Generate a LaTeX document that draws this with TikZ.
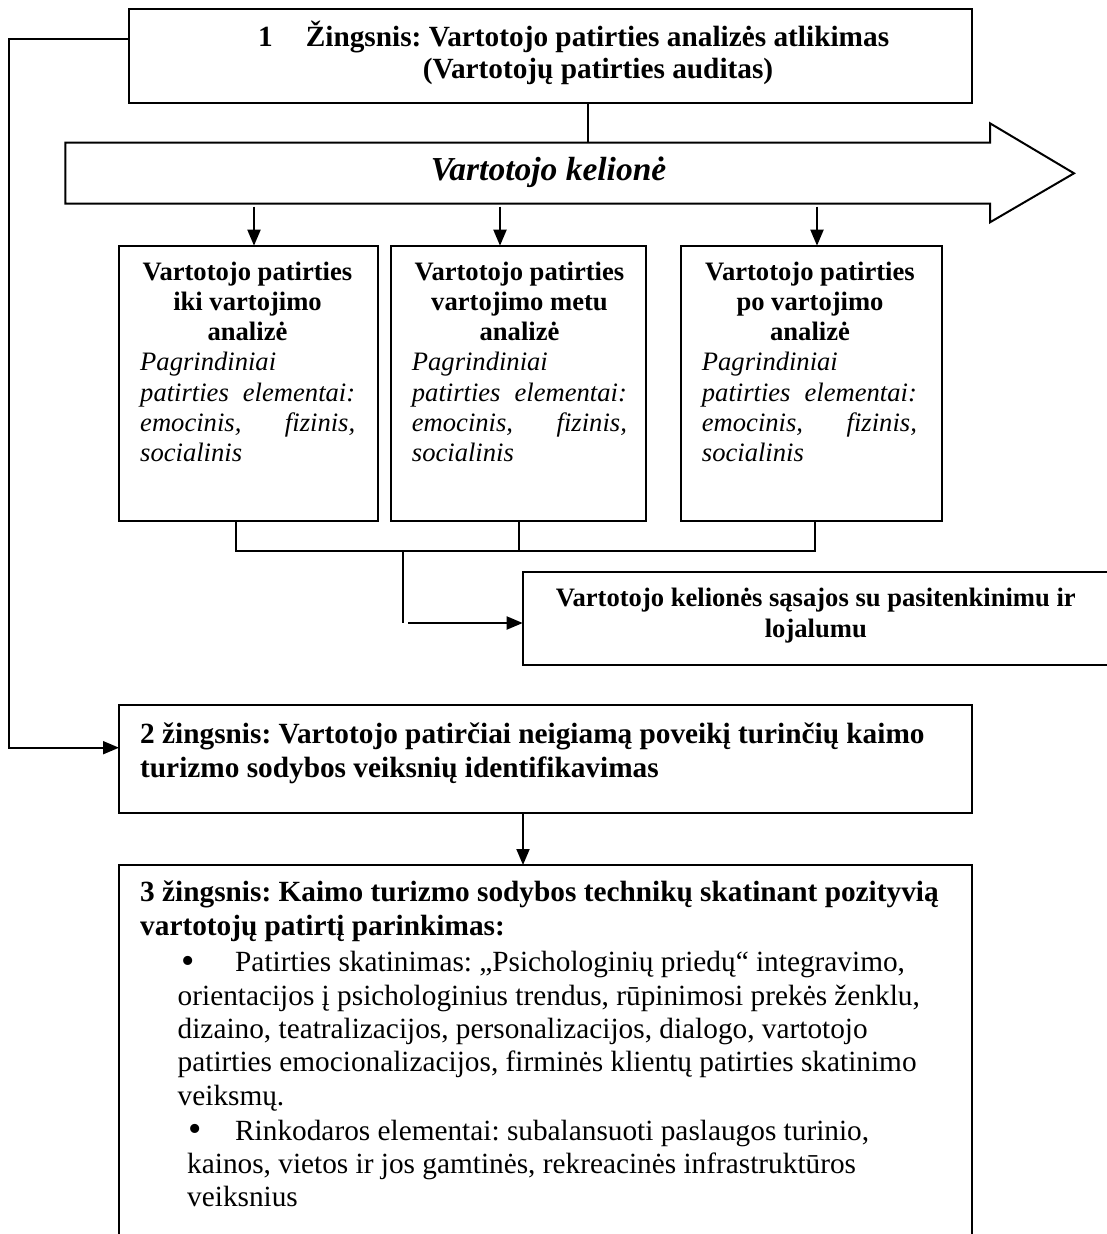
\documentclass[tikz,border=0pt]{standalone}
\usepackage{fontspec}
\setmainfont{Liberation Serif}
\frenchspacing
\usetikzlibrary{arrows.meta,calc}

\begin{document}
\begin{tikzpicture}[x=1pt,y=-1pt,
  box/.style={draw, line width=2pt, inner sep=0pt, outer sep=0pt, anchor=north west},
  conn/.style={line width=1.9pt},
  arr/.style={conn, -{Triangle[length=16pt,width=13pt]}},
  hd/.style={font=\fontsize{29.3}{33}\selectfont\bfseries, inner sep=0pt},
  hds/.style={font=\fontsize{26.6}{30}\selectfont\bfseries, inner sep=0pt},
  its/.style={font=\fontsize{26.6}{30}\selectfont\itshape, inner sep=0pt, anchor=base west},
  body/.style={font=\fontsize{29.3}{33}\selectfont, inner sep=0pt, anchor=base west},
  dot/.style={font=\fontsize{38}{38}\selectfont, inner sep=0pt, anchor=base west},
  jtext/.style={font=\fontsize{33.5}{40}\selectfont\bfseries\itshape, inner sep=0pt, anchor=base}]

\useasboundingbox (0,0) rectangle (1106,1234);

% step 1
\node[box, minimum width=842.7pt, minimum height=93.7pt] (b1) at (129,9) {};
\node[hd, anchor=base west] (b1n) at (258,46.7) {1};
\node[hd, anchor=base] (b1t1) at (597.5,46.7) {Žingsnis: Vartotojo patirties analizės atlikimas};
\node[hd, anchor=base] (b1t2) at (598,78) {(Vartotojų patirties auditas)};

% customer journey arrow
\node[minimum width=924.7pt, minimum height=61.2pt, inner sep=0pt, outer sep=0pt, anchor=north west] (journey) at (65.3,142.5) {};
\coordinate (jtip) at (1074,173.3);
\draw[line width=2pt, line join=miter]
  (journey.south west) -- (journey.north west) -- (journey.north east)
  -- ++(0,-19.2) -- (jtip) -- ($(journey.south east)+(0,18.6)$)
  -- (journey.south east) -- cycle;
\node[jtext] (jt) at (548.5,180) {Vartotojo kelionė};

\coordinate (xlink) at (588,0);
\draw[conn] (b1.south -| xlink) -- (journey.north -| xlink);

% three stage boxes
\node[box, minimum width=258.7pt, minimum height=275.3pt] (bA) at (119,245.7) {};
\node[box, minimum width=255pt, minimum height=275.3pt] (bB) at (390.7,245.7) {};
\node[box, minimum width=260.7pt, minimum height=275.3pt] (bC) at (681,245.7) {};

\foreach \n/\cx/\lx/\sec in {A/247.5/140/iki vartojimo, B/519.5/411.7/vartojimo metu, C/810/701.7/po vartojimo}{
  \node[hds, anchor=base] (t\n1) at (\cx,280) {Vartotojo patirties};
  \node[hds, anchor=base] (t\n2) at (\cx,310.3) {\sec};
  \node[hds, anchor=base] (t\n3) at (\cx,340.6) {analizė};
  \node[its] (t\n4) at (\lx,370.9) {Pagrindiniai};
  \node[its] (t\n5) at (\lx,401.2) {\makebox[215pt][s]{patirties elementai:}};
  \node[its] (t\n6) at (\lx,431.5) {\makebox[215pt][s]{emocinis, fizinis,}};
  \node[its] (t\n7) at (\lx,461.8) {socialinis};
}

\coordinate (jA) at (254,206.7);
\coordinate (jB) at (500,206.7);
\coordinate (jC) at (817,206.7);
\draw[arr] (jA) -- (jA |- bA.north);
\draw[arr] (jB) -- (jB |- bB.north);
\draw[arr] (jC) -- (jC |- bC.north);

% bracket joining the stages
\coordinate (kA) at (236,551);
\coordinate (kB) at (518.7,551);
\coordinate (kC) at (815,551);
\coordinate (kM) at (402.7,551);
\coordinate (kM2) at (402.7,623);
\coordinate (kS) at (408,623);
\draw[conn] (bA.south -| kA) -- (kA) -- (kC) -- (bC.south -| kC);
\draw[conn] (bB.south -| kB) -- (kB);
\draw[conn] (kM) -- (kM2);

% satisfaction and loyalty
\node[box, minimum width=590pt, minimum height=93.3pt] (bD) at (522.7,571.7) {};
\node[hds, anchor=base] (tD1) at (815.8,606) {Vartotojo kelionės sąsajos su pasitenkinimu ir};
\node[hds, anchor=base] (tD2) at (815.8,637) {lojalumu};
\draw[arr] (kS) -- (bD.west |- kS);

% step 2
\node[box, minimum width=852.7pt, minimum height=107.7pt] (b2) at (119,705) {};
\node[hd, anchor=base west] (t21) at (140,743.3) {2 žingsnis: Vartotojo patirčiai neigiamą poveikį turinčių kaimo};
\node[hd, anchor=base west] (t22) at (140,777.5) {turizmo sodybos veiksnių identifikavimas};

\coordinate (lt) at (9.3,39.3);
\coordinate (lb) at (9.3,747.7);
\draw[arr] (b1.west |- lt) -- (lt) -- (lb) -- (b2.west |- lb);

% step 3
\node[box, minimum width=852.7pt, minimum height=385pt] (b3) at (119,865) {};
\coordinate (x23) at (523,0);
\draw[arr] (b2.south -| x23) -- (b3.north -| x23);

\node[hd, anchor=base west] (t31) at (140,901.7) {3 žingsnis: Kaimo turizmo sodybos technikų skatinant pozityvią};
\node[hd, anchor=base west] (t32) at (140,935) {vartotojų patirtį parinkimas:};

\node[dot] (u1) at (181,973) {•};
\node[body] (u11) at (235,971.7) {Patirties skatinimas: „Psichologinių priedų“ integravimo,};
\node[body] (u12) at (177.5,1005) {orientacijos į psichologinius trendus, rūpinimosi prekės ženklu,};
\node[body] (u13) at (177.5,1038.3) {dizaino, teatralizacijos, personalizacijos, dialogo, vartotojo};
\node[body] (u14) at (177.5,1071.7) {patirties emocionalizacijos, firminės klientų patirties skatinimo};
\node[body] (u15) at (177.5,1105) {veiksmų.};

\node[dot] (u2) at (188,1141.3) {•};
\node[body] (u21) at (235,1140) {Rinkodaros elementai: subalansuoti paslaugos turinio,};
\node[body] (u22) at (187,1173.5) {kainos, vietos ir jos gamtinės, rekreacinės infrastruktūros};
\node[body] (u23) at (187,1206.7) {veiksnius};

\end{tikzpicture}
\end{document}
